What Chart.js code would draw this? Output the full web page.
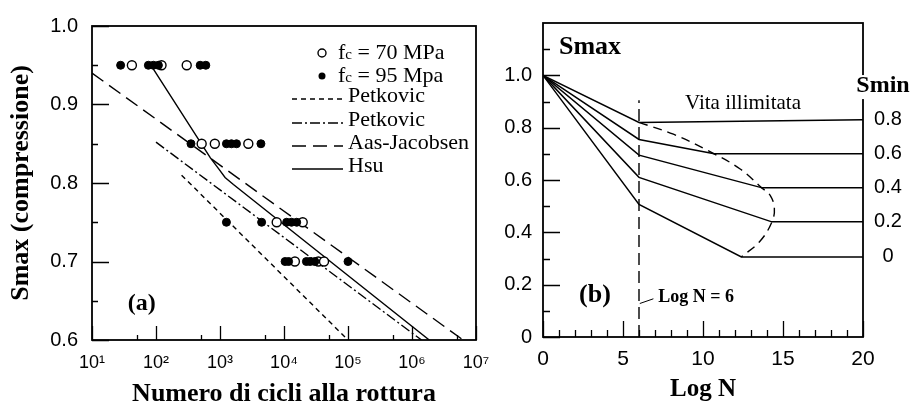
<!DOCTYPE html>
<html>
<head>
<meta charset="utf-8">
<script src="https://cdn.jsdelivr.net/npm/chart.js@4.4.0/dist/chart.umd.min.js"></script>
<style>
  html, body { margin: 0; padding: 0; background: #fff; }
  #wrap { position: relative; width: 917px; height: 410px; overflow: hidden; }
  #ca { position: absolute; left: 0; top: 0; }
  #cb { position: absolute; left: 480px; top: 0; }
</style>
</head>
<body>
<div id="wrap">
  <canvas id="ca" width="510" height="410"></canvas>
  <canvas id="cb" width="437" height="410"></canvas>
</div>
<script>
const SERIF = "'Liberation Serif', 'Times New Roman', serif";
const SANS = "'Liberation Sans', Arial, sans-serif";
const SUP = {1: '¹', 2: '²', 3: '³', 4: '⁴', 5: '⁵', 6: '⁶', 7: '⁷'};

// ---------- (a) Smax vs numero di cicli ----------
const decadesA = [10, 100, 1e3, 1e4, 1e5, 1e6, 1e7];
const halfDecadesA = [50, 500, 5e3, 5e4, 5e5, 5e6];
const smaxMajorA = [0.6, 0.7, 0.8, 0.9, 1.0];
const smaxMinorA = [0.65, 0.75, 0.85, 0.95];

// fc = 70 MPa (cerchi vuoti)
const open70N = [42, 122, 302, 517, 830, 2770, 7690, 19600, 14800, 34400, 42200];
const open70S = [0.95, 0.95, 0.95, 0.85, 0.85, 0.85, 0.75, 0.75, 0.70, 0.70, 0.70];
// fc = 95 MPa (cerchi pieni)
const full95N = [28, 76, 91, 109, 490, 600, 352, 1260, 1510, 1810, 4360, 1260, 4470, 11000, 13100, 15800, 10400, 11800, 22400, 25600, 30300, 100000];
const full95S = [0.95, 0.95, 0.95, 0.95, 0.95, 0.95, 0.85, 0.85, 0.85, 0.85, 0.85, 0.75, 0.75, 0.75, 0.75, 0.75, 0.70, 0.70, 0.70, 0.70, 0.70, 0.70];

const petkN = [251, 100000];
const petkS = [0.81, 0.60];
const petk2N = [100, 1410000];
const petk2S = [0.852, 0.60];
const aasN = [10, 6300000];
const aasS = [0.94, 0.60];
const hsuN = [85, 708, 955, 1200, 1620, 1860000];
const hsuS = [0.949, 0.832, 0.818, 0.807, 0.798, 0.60];

const legendA = ['fc = 70 MPa', 'fc = 95 Mpa', 'Petkovic', 'Petkovic', 'Aas-Jacobsen', 'Hsu'];

// ---------- (b) Smax vs Log N ----------
const logMajorB = [0, 5, 10, 15, 20];
const logMinorB = [1, 2, 3, 4, 6, 7, 8, 9, 11, 12, 13, 14, 16, 17, 18, 19];
const smaxMajorB = [0, 0.2, 0.4, 0.6, 0.8, 1.0];
const smaxMinorB = [0.1, 0.3, 0.5, 0.7, 0.9, 1.1];

const sminLabels = ['0.8', '0.6', '0.4', '0.2', '0'];
const kneeS = [0.82, 0.755, 0.695, 0.61, 0.507];
const limN = [6, 10.7, 13.7, 14.3, 12.4];
const limS = [0.82, 0.70, 0.57, 0.44, 0.306];
const farS = [0.83, 0.70, 0.57, 0.44, 0.306];

const envN = [6, 8.15, 10.44, 12.3, 13.67, 14.19, 14.46, 14.3, 13.56, 12.4];
const envS = [0.82, 0.775, 0.708, 0.643, 0.57, 0.542, 0.492, 0.439, 0.366, 0.306];
const vertN = [6, 6];
const vertS = [0, 0.905];
const leaderN = [6.05, 6.9];
const leaderS = [0.128, 0.146];

const xy = (xs, ys) => xs.map((v, i) => ({x: v, y: ys[i]}));

function frame(t) {
  return {
    id: 'frame',
    afterDatasetsDraw(chart) {
      const {ctx, chartArea: a} = chart;
      const sx = chart.scales.x, sy = chart.scales.y;
      ctx.save();
      ctx.strokeStyle = '#000';
      ctx.lineWidth = 1.3;
      ctx.beginPath();
      const vt = (vals, len) => vals.forEach(v => {
        const p = Math.round(sx.getPixelForValue(v)) + 0.5;
        ctx.moveTo(p, a.bottom); ctx.lineTo(p, a.bottom - len);
      });
      const ht = (vals, len) => vals.forEach(v => {
        const p = Math.round(sy.getPixelForValue(v)) + 0.5;
        ctx.moveTo(a.left, p); ctx.lineTo(a.left + len, p);
      });
      vt(t.xMajor, t.xMajorLen); vt(t.xMinor, t.xMinorLen);
      ht(t.yMajor, t.yMajorLen); ht(t.yMinor, t.yMinorLen);
      ctx.stroke();
      ctx.lineWidth = 1.8;
      ctx.strokeRect(a.left, a.top, a.right - a.left, a.bottom - a.top);
      ctx.restore();
    }
  };
}

const lineDs = (label, data, dash, extra) => Object.assign({
  label, data, showLine: true, pointRadius: 0, borderColor: '#000',
  borderWidth: 1.4, borderDash: dash, fill: false, order: 2
}, extra || {});

const textA = {
  id: 'textA',
  afterDraw(chart) {
    const {ctx, chartArea: a} = chart;
    const sx = chart.scales.x, sy = chart.scales.y;
    ctx.save();
    ctx.fillStyle = '#000';
    ctx.strokeStyle = '#000';
    ctx.textBaseline = 'middle';
    ctx.textAlign = 'center';
    ctx.font = 'bold 24px ' + SERIF;
    ctx.fillText('(a)', sx.getPixelForValue(60), sy.getPixelForValue(0.646));

    // legenda
    const rows = [27, 50, 70, 94, 117, 140].map(d => a.top + d);
    const dashes = [[5, 4], [10, 3, 2, 3], [14, 7], []];
    ctx.textAlign = 'left';
    legendA.forEach((txt, i) => {
      const yy = rows[i];
      if (i < 2) {
        ctx.beginPath();
        ctx.arc(a.right - 154, yy, i === 0 ? 4 : 3.5, 0, Math.PI * 2);
        ctx.lineWidth = 1.4;
        if (i === 0) { ctx.fillStyle = '#fff'; ctx.fill(); ctx.stroke(); }
        else { ctx.fillStyle = '#000'; ctx.fill(); }
        ctx.fillStyle = '#000';
        let x0 = a.right - 138;
        ctx.font = '22px ' + SERIF;
        ctx.fillText('f', x0, yy);
        x0 += ctx.measureText('f').width;
        ctx.font = '15px ' + SERIF;
        ctx.fillText('c', x0, yy + 2);
        x0 += ctx.measureText('c').width;
        ctx.font = '22px ' + SERIF;
        ctx.fillText(txt.slice(2), x0, yy);
      } else {
        ctx.beginPath();
        ctx.setLineDash(dashes[i - 2]);
        ctx.lineWidth = 1.4;
        ctx.moveTo(a.right - 184, yy + 3);
        ctx.lineTo(a.right - 133, yy + 3);
        ctx.stroke();
        ctx.setLineDash([]);
        ctx.font = '22px ' + SERIF;
        ctx.fillText(txt, a.right - 128, yy);
      }
    });
    ctx.restore();
  }
};

new Chart(document.getElementById('ca'), {
  type: 'scatter',
  data: {
    datasets: [
      {label: legendA[1], data: xy(full95N, full95S), pointRadius: 4, pointBackgroundColor: '#000',
       pointBorderColor: '#000', pointBorderWidth: 1, order: 0},
      {label: legendA[0], data: xy(open70N, open70S), pointRadius: 4.5, pointBackgroundColor: '#fff',
       pointBorderColor: '#000', pointBorderWidth: 1.4, order: 1},
      lineDs(legendA[2], xy(petkN, petkS), [5, 4]),
      lineDs(legendA[3], xy(petk2N, petk2S), [10, 3, 2, 3]),
      lineDs(legendA[4], xy(aasN, aasS), [14, 7]),
      lineDs(legendA[5], xy(hsuN, hsuS), [])
    ]
  },
  options: {
    responsive: false,
    animation: false,
    events: [],
    layout: {padding: {left: 0, right: 34, top: 20, bottom: 0}, autoPadding: false},
    plugins: {legend: {display: false}, tooltip: {enabled: false}},
    scales: {
      x: {
        type: 'logarithmic', min: 10, max: 1e7,
        grid: {display: false, drawTicks: false},
        border: {display: false},
        ticks: {
          autoSkip: false, maxRotation: 0, padding: 12, color: '#000',
          font: {family: SANS, size: 18},
          callback: v => {
            const e = Math.log10(v);
            return Math.abs(e - Math.round(e)) < 1e-9 ? '10' + SUP[Math.round(e)] : '';
          }
        },
        title: {display: true, text: 'Numero di cicli alla rottura', color: '#000',
                font: {family: SERIF, size: 26, weight: 'bold'}, padding: 0},
        afterFit: s => { s.height = 70; }
      },
      y: {
        min: 0.6, max: 1.0,
        grid: {display: false, drawTicks: false},
        border: {display: false},
        ticks: {stepSize: 0.1, padding: 14, color: '#000', font: {family: SANS, size: 20},
                callback: v => v.toFixed(1)},
        title: {display: true, text: 'Smax (compressione)', color: '#000',
                font: {family: SERIF, size: 26, weight: 'bold'}, padding: {top: 6, bottom: 0}},
        afterFit: s => { s.width = 92; }
      }
    }
  },
  plugins: [frame({xMajor: decadesA, xMinor: halfDecadesA, yMajor: smaxMajorA, yMinor: smaxMinorA,
                   xMajorLen: 14, xMinorLen: 5, yMajorLen: 17, yMinorLen: 6}), textA]
});

// ---------- chart (b) ----------
const textB = {
  id: 'textB',
  afterDraw(chart) {
    const {ctx} = chart;
    const sx = chart.scales.x, sy = chart.scales.y;
    ctx.save();
    ctx.fillStyle = '#000';
    ctx.textBaseline = 'middle';
    ctx.textAlign = 'center';
    ctx.font = 'bold 26px ' + SERIF;
    ctx.fillText('Smax', sx.getPixelForValue(2.94), sy.getPixelForValue(1.106));
    ctx.fillText('(b)', sx.getPixelForValue(3.25), sy.getPixelForValue(0.158));
    ctx.font = '21px ' + SERIF;
    ctx.fillText('Vita illimitata', sx.getPixelForValue(12.5), sy.getPixelForValue(0.892));
    ctx.textAlign = 'left';
    ctx.font = 'bold 18px ' + SERIF;
    ctx.fillText('Log N = 6', sx.getPixelForValue(7.2), sy.getPixelForValue(0.150));

    // Smin
    ctx.textAlign = 'center';
    ctx.font = 'bold 24px ' + SERIF;
    const sxm = sx.getPixelForValue(21.25), sym = sy.getPixelForValue(0.959);
    const w = ctx.measureText('Smin').width;
    ctx.fillStyle = '#fff';
    ctx.fillRect(sxm - w / 2 - 1, sym - 11, w + 2, 24);
    ctx.fillStyle = '#000';
    ctx.fillText('Smin', sxm, sym);
    ctx.font = '20px ' + SANS;
    sminLabels.forEach((t, i) => {
      ctx.fillText(t, sx.getPixelForValue(21.56), sy.getPixelForValue(farS[i]));
    });
    ctx.restore();
  }
};

const curvesB = sminLabels.map((t, i) => lineDs('Smin ' + t,
  xy([0, 6, limN[i], 20], [1.0, kneeS[i], limS[i], farS[i]]), [], {borderWidth: 1.5}));

new Chart(document.getElementById('cb'), {
  type: 'scatter',
  data: {
    datasets: curvesB.concat([
      lineDs('limite', xy(envN, envS), [9, 6], {tension: 0.4}),
      lineDs('Log N = 6', xy(vertN, vertS), [12, 6]),
      lineDs('richiamo', xy(leaderN, leaderS), [], {borderWidth: 1})
    ])
  },
  options: {
    responsive: false,
    animation: false,
    events: [],
    layout: {padding: {left: 0, right: 54, top: 18, bottom: 0}, autoPadding: false},
    plugins: {legend: {display: false}, tooltip: {enabled: false}},
    scales: {
      x: {
        type: 'linear', min: 0, max: 20,
        grid: {display: false, drawTicks: false},
        border: {display: false},
        ticks: {stepSize: 5, maxRotation: 0, padding: 10, color: '#000', font: {family: SANS, size: 21}},
        title: {display: true, text: 'Log N', color: '#000',
                font: {family: SERIF, size: 25, weight: 'bold'}, padding: {top: 0, bottom: 5}},
        afterFit: s => { s.height = 73; }
      },
      y: {
        min: 0, max: 1.2,
        grid: {display: false, drawTicks: false},
        border: {display: false},
        ticks: {stepSize: 0.2, padding: 11, color: '#000', font: {family: SANS, size: 20},
                callback: v => (v < 0.01 ? '0' : v > 1.05 ? '' : v.toFixed(1))},
        afterFit: s => { s.width = 63; }
      }
    }
  },
  plugins: [frame({xMajor: logMajorB, xMinor: logMinorB, yMajor: smaxMajorB, yMinor: smaxMinorB,
                   xMajorLen: 16, xMinorLen: 7, yMajorLen: 17, yMinorLen: 7}), textB]
});
</script>
</body>
</html>
